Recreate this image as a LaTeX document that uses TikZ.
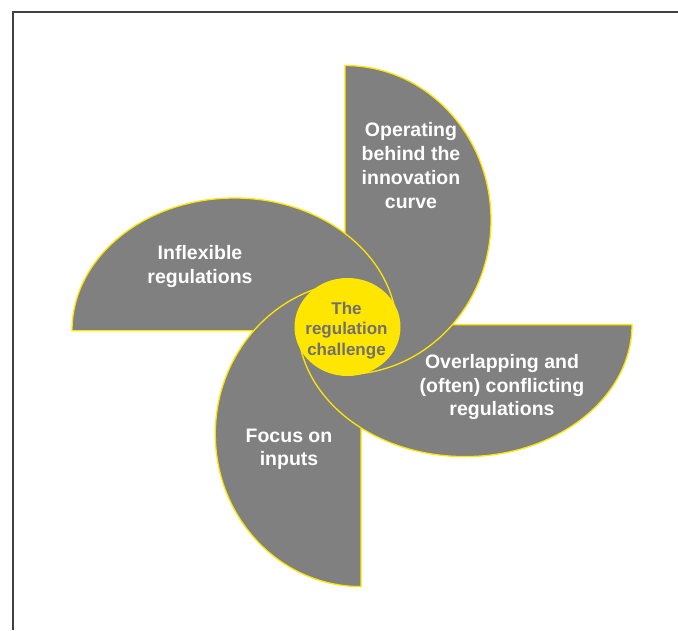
\documentclass[tikz,border=0pt]{standalone}
\usepackage{fontspec}
\setmainfont{Liberation Sans}
\usetikzlibrary{shapes.geometric}
\definecolor{bladegray}{HTML}{808080}
\definecolor{pinyellow}{HTML}{FFE600}
\definecolor{hubink}{HTML}{707070}
\definecolor{framegray}{HTML}{404040}
\begin{document}
\begin{tikzpicture}[x=1pt,y=-1pt,
  blade/.style={fill=bladegray, draw=pinyellow, line width=1.3pt},
  bladetext/.style={text=white, font=\fontsize{19.5}{23.8}\selectfont\bfseries, align=center, inner sep=0pt},
  hub/.style={ellipse, fill=pinyellow, minimum width=106pt, minimum height=98pt, inner sep=0pt},
  hubtext/.style={text=hubink, font=\fontsize{17}{20.5}\selectfont\bfseries, align=center, inner sep=0pt}]
\useasboundingbox (0,0) rectangle (678,630);
\draw[framegray, line width=2pt] (13,630) -- (13,12) -- (678,12);
% blades (cyclic overlap: bottom < right < top < left < bottom)
\path[blade] (361,586.6) arc[start angle=90, end angle=270, x radius=145.7, y radius=152.6] -- cycle;
\path[blade] (632,324.6) arc[start angle=0, end angle=180, x radius=167, y radius=132] -- cycle;
\path[blade] (345,65.5) arc[start angle=-90, end angle=90, x radius=146, y radius=154.5] -- cycle;
\path[blade] (72,330.7) arc[start angle=180, end angle=360, x radius=162.5, y radius=132.7] -- cycle;
\begin{scope}
  \clip (190,250) rectangle (345,332);
  \path[blade] (361,586.6) arc[start angle=90, end angle=270, x radius=145.7, y radius=152.6] -- cycle;
\end{scope}
\node[hub] (hub) at (347.5,327) {};
\node[bladetext] (t1) at (411,165.6) {Operating\\behind the\\innovation\\curve};
\node[bladetext] (t2) at (200,266.8) {Inflexible\\regulations};
\node[bladetext] (t3) at (502,387) {Overlapping and\\(often) conflicting\\regulations};
\node[bladetext] (t4) at (289,449.4) {Focus on\\inputs};
\node[hubtext] (t5) at (346.5,330.3) {The\\regulation\\challenge};
\end{tikzpicture}
\end{document}
